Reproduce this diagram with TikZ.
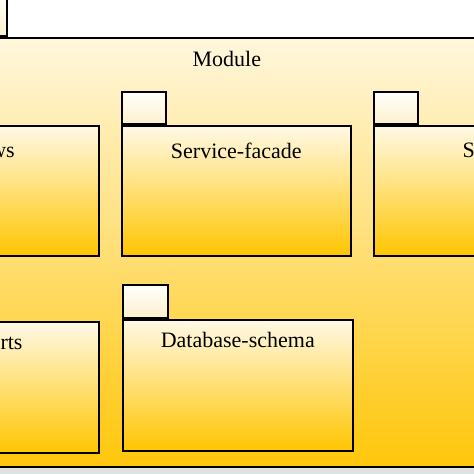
\documentclass[tikz,border=0pt]{standalone}
\usepackage{fontspec}
\setmainfont{Liberation Serif}
\usetikzlibrary{positioning}

\definecolor{modtop}{RGB}{255,247,222}
\definecolor{modbot}{RGB}{255,198,10}
\definecolor{pkgtop}{RGB}{255,249,230}
\definecolor{pkgbot}{RGB}{255,197,0}
\definecolor{tabtop}{RGB}{255,255,252}
\definecolor{tabbot}{RGB}{252,239,204}
\definecolor{edgegray}{RGB}{222,227,226}

\tikzset{
  pkgbody/.style={draw, line width=1.6pt, top color=pkgtop, bottom color=pkgbot,
    minimum width=229pt, minimum height=130pt, anchor=north west, inner sep=0pt},
  pkgtab/.style={draw, line width=1.6pt, top color=tabtop, bottom color=tabbot,
    minimum width=44pt, minimum height=32pt, anchor=south west, inner sep=0pt},
  pkgname/.style={inner sep=0pt, font=\fontsize{22}{26}\selectfont},
}

\begin{document}
\begin{tikzpicture}[x=1pt,y=-1pt]
\useasboundingbox (0,0) rectangle (474,474);
\clip (0,0) rectangle (474,474);
\fill[white] (0,0) rectangle (474,474);
\fill[edgegray] (0,466) rectangle (474,474);

% outer package
\node[pkgbody, top color=modtop, bottom color=modbot, minimum width=760pt, minimum height=429pt] (module) at (-154,37) {};
\node[pkgtab, minimum width=160pt, minimum height=40pt] (module-tab) at (module.north west) {};
\node[pkgname, below=14.5pt of module.north] (module-name) {Module};

% first row
\node[pkgbody] (views) at (-131,125) {};
\node[pkgtab] (views-tab) at (views.north west) {};
\node[pkgname, below=17.5pt of views.north, xshift=3pt] (views-name) {Views};

\node[pkgbody] (facade) at (121,125) {};
\node[pkgtab] (facade-tab) at (facade.north west) {};
\node[pkgname, below=17.5pt of facade.north] (facade-name) {Service-facade};

\node[pkgbody] (server) at (373,125) {};
\node[pkgtab] (server-tab) at (server.north west) {};
\node[pkgname, below=17.5pt of server.north, xshift=3pt] (server-name) {Server};

% second row
\node[pkgbody, minimum height=131pt] (reports) at (-131,321) {};
\node[pkgtab] (reports-tab) at (reports.north west) {};
\node[pkgname, below=13.5pt of reports.north, xshift=4pt] (reports-name) {Reports};

\node[pkgbody, minimum width=230pt, minimum height=131pt] (schema) at (122,319) {};
\node[pkgtab, minimum width=45pt, minimum height=33pt] (schema-tab) at (schema.north west) {};
\node[pkgname, below=13.5pt of schema.north] (schema-name) {Database-schema};

\end{tikzpicture}
\end{document}
